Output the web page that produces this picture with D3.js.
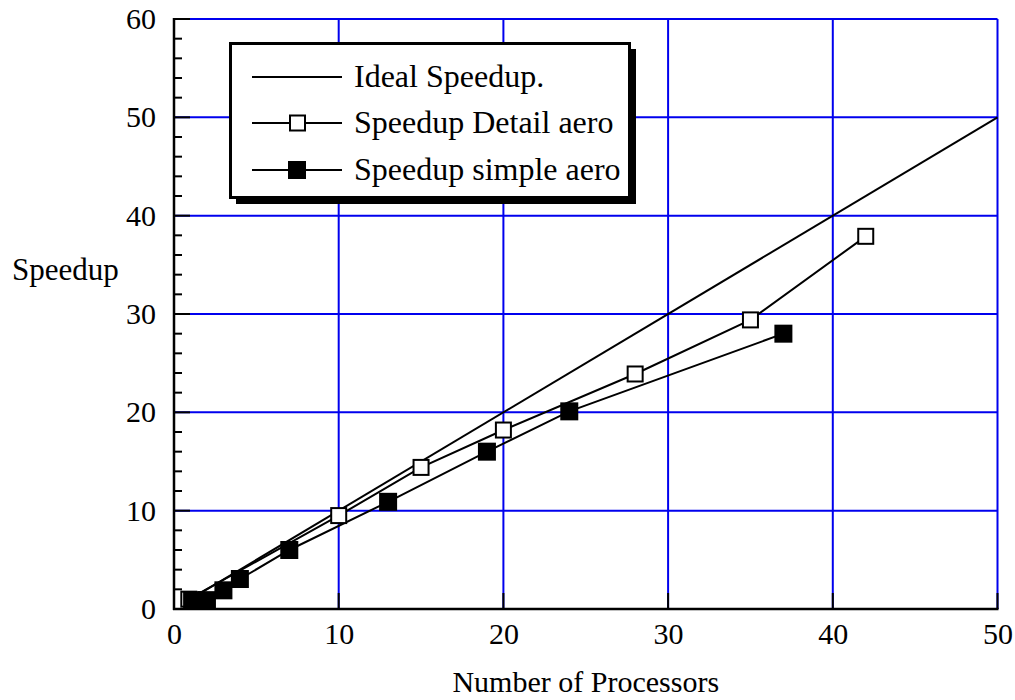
<!DOCTYPE html>
<html><head><meta charset="utf-8">
<script src="https://cdn.jsdelivr.net/npm/d3@7"></script>
<style>body{margin:0;background:#fff;} text{font-family:"Liberation Serif","Times New Roman",serif;}</style>
</head><body><svg id="c" width="1015" height="700"></svg>
<script>
const xTicks = [0,10,20,30,40,50];
const yTicks = [0,10,20,30,40,50,60];
const idealX = [1,50];
const idealY = [1,50];
const detailX = [0.9,10,15,20,28,35,42];
const detailY = [1,9.5,14.4,18.2,23.9,29.4,37.9];
const simpleX = [1.1,2,3,4,7,13,19,24,37];
const simpleY = [0.9,0.9,1.9,3.05,6,10.9,16,20.1,28];
const legendLabels = ["Ideal Speedup.","Speedup Detail aero","Speedup simple aero"];

const svg = d3.select("#c");
const L=174,R=997.5,T=19,B=609;
const x = d3.scaleLinear().domain([0,50]).range([L,R]);
const y = d3.scaleLinear().domain([0,60]).range([B,T]);

// grid
svg.append("g").selectAll("line").data(xTicks.filter(d=>d>0)).join("line")
  .attr("x1",d=>x(d)).attr("x2",d=>x(d)).attr("y1",T).attr("y2",B)
  .attr("stroke","#0000ee").attr("stroke-width",2);
svg.append("g").selectAll("line").data(yTicks.filter(d=>d>0)).join("line")
  .attr("y1",d=>y(d)).attr("y2",d=>y(d)).attr("x1",L).attr("x2",R)
  .attr("stroke","#0000ee").attr("stroke-width",2);

// axes
const xAxis = d3.axisBottom(x).tickValues(xTicks).tickSize(0).tickPadding(14).tickFormat(d3.format("d"));
const gx = svg.append("g").attr("transform",`translate(0,${B})`).call(xAxis);
gx.select(".domain").remove();
gx.selectAll("text").attr("font-size",30).attr("fill","#000");
svg.append("line").attr("x1",L-1).attr("x2",R+1).attr("y1",B).attr("y2",B).attr("stroke","#000").attr("stroke-width",2.5);
svg.append("g").selectAll("line").data(xTicks.filter(d=>d>0)).join("line")
  .attr("x1",d=>x(d)).attr("x2",d=>x(d)).attr("y1",B).attr("y2",B-16)
  .attr("stroke","#000").attr("stroke-width",2);

const yAxis = d3.axisLeft(y).tickValues(yTicks).tickSize(0).tickPadding(18).tickFormat(d3.format("d"));
const gy = svg.append("g").attr("transform",`translate(${L},0)`).call(yAxis);
gy.select(".domain").remove();
gy.selectAll("text").attr("font-size",30).attr("fill","#000");
svg.append("line").attr("x1",L).attr("x2",L).attr("y1",T-1).attr("y2",B+1).attr("stroke","#000").attr("stroke-width",2.5);
const minor = d3.range(0,61,2).filter(d=>d%10!==0);
svg.append("g").selectAll("line").data(minor).join("line")
  .attr("x1",L).attr("x2",L+8).attr("y1",d=>y(d)).attr("y2",d=>y(d))
  .attr("stroke","#000").attr("stroke-width",2);
svg.append("g").selectAll("line").data(yTicks.filter(d=>d>0)).join("line")
  .attr("x1",L).attr("x2",L+16).attr("y1",d=>y(d)).attr("y2",d=>y(d))
  .attr("stroke","#000").attr("stroke-width",2);

// axis titles
svg.append("text").attr("x",x(25)).attr("y",692).attr("text-anchor","middle").attr("font-size",30).text("Number of Processors");
svg.append("text").attr("x",12).attr("y",280).attr("font-size",31).text("Speedup");

const line = d3.line().x(d=>x(d[0])).y(d=>y(d[1]));
const ideal = idealX.map((v,i)=>[v,idealY[i]]);
const detail = detailX.map((v,i)=>[v,detailY[i]]);
const simple = simpleX.map((v,i)=>[v,simpleY[i]]);

svg.append("path").attr("d",line(ideal)).attr("fill","none").attr("stroke","#000").attr("stroke-width",2);
svg.append("path").attr("d",line(detail)).attr("fill","none").attr("stroke","#000").attr("stroke-width",2);
svg.append("path").attr("d",line(simple)).attr("fill","none").attr("stroke","#000").attr("stroke-width",2);

svg.append("g").selectAll("rect").data(detail).join("rect")
  .attr("x",d=>x(d[0])-7.5).attr("y",d=>y(d[1])-7.5).attr("width",15).attr("height",15)
  .attr("fill","#fff").attr("stroke","#000").attr("stroke-width",2);
svg.append("g").selectAll("rect").data(simple).join("rect")
  .attr("x",d=>x(d[0])-9).attr("y",d=>y(d[1])-9).attr("width",18).attr("height",18)
  .attr("fill","#000");

// legend
const lg = svg.append("g");
lg.append("path").attr("d","M236,49 L636,49 L636,204 L236,204 Z").attr("fill","#000");
lg.append("rect").attr("x",230.5).attr("y",43.5).attr("width",399).attr("height",154).attr("fill","#fff").attr("stroke","#000").attr("stroke-width",3);
const rows=[77,123,170];
legendLabels.forEach((lab,i)=>{
  lg.append("line").attr("x1",252).attr("x2",342).attr("y1",rows[i]).attr("y2",rows[i]).attr("stroke","#000").attr("stroke-width",2);
  if(i===1) lg.append("rect").attr("x",290).attr("y",rows[i]-7.5).attr("width",15).attr("height",15).attr("fill","#fff").attr("stroke","#000").attr("stroke-width",2);
  if(i===2) lg.append("rect").attr("x",288).attr("y",rows[i]-9).attr("width",18).attr("height",18).attr("fill","#000");
  lg.append("text").attr("x",354).attr("y",rows[i]+10).attr("font-size",32).text(lab);
});
</script></body></html>
